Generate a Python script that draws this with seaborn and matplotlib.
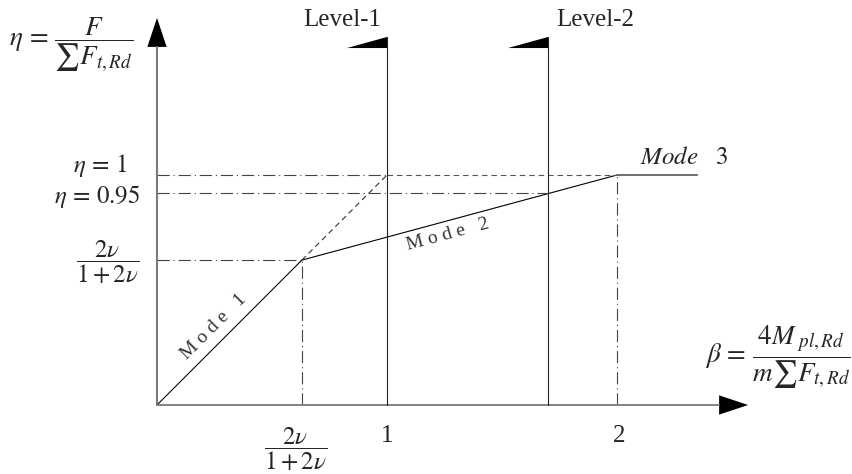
import numpy as np
import pandas as pd
import seaborn as sns
import matplotlib.pyplot as plt

# schematic values (beta, eta), in diagram units
beta_break = 0.63          # 2v/(1+2v)
beta_level1 = 1.0
beta_level2 = 1.70
beta_mode3 = 2.0
beta_end = 2.35
eta_break = 0.63
eta_095 = 0.92             # drawn position of the eta = 0.95 line
eta_one = 1.0

curve_beta = [0.0, beta_break, beta_mode3, beta_end]
curve_eta = [0.0, eta_break, eta_one, eta_one]

sns.set_theme(style="white")
plt.rcParams["font.family"] = ["Liberation Serif", "DejaVu Serif"]
plt.rcParams["mathtext.fontset"] = "stix"

fig = plt.figure(figsize=(8.53, 4.74), dpi=100)
ax = fig.add_axes([0, 0, 1, 1])
ax.set_xlim(-157 / 230, 696 / 230)
ax.set_ylim(-69 / 230, 405 / 230)
ax.axis("off")

axis_col = "#7a7a7a"
dashdot = (0, (11, 3.5, 1, 3.5))
dashed = (0, (5, 3.5))
lw = 0.8

# main curve: Mode 1 -> Mode 2 -> Mode 3
df = pd.DataFrame({"beta": curve_beta, "eta": curve_eta})
sns.lineplot(data=df, x="beta", y="eta", sort=False, color="black", lw=lw, ax=ax)

# dashed extension of Mode 1 and eta = 1 beyond level 1
ax.plot([beta_break, beta_level1], [eta_break, eta_one], color="#333333", lw=lw, ls=dashed)
ax.plot([beta_level1, beta_mode3], [eta_one, eta_one], color="#555555", lw=lw, ls=dashed)

# dash-dot reference lines
ax.plot([0, beta_level1], [eta_one, eta_one], color="#444444", lw=lw, ls=dashdot)
ax.plot([0, beta_level2], [eta_095, eta_095], color="#444444", lw=lw, ls=dashdot)
ax.plot([0, beta_break], [eta_break, eta_break], color="#444444", lw=lw, ls=dashdot)
ax.plot([beta_break, beta_break], [0, eta_break], color="#444444", lw=lw, ls=dashdot)
ax.plot([beta_mode3, beta_mode3], [0, eta_one], color="#444444", lw=lw, ls=dashdot)

# axes with arrow heads
x_tip, y_tip = 2.57, 1.683
ah_len, ah_w = 0.126, 0.042
ax.plot([0, x_tip - ah_len], [0, 0], color=axis_col, lw=1.3)
ax.plot([0, 0], [0, y_tip - ah_len], color=axis_col, lw=1.5)
ax.fill([x_tip - ah_len, x_tip, x_tip - ah_len], [-ah_w, 0, ah_w], color="black", lw=0)
ax.fill([-ah_w, 0, ah_w], [y_tip - ah_len, y_tip, y_tip - ah_len], color="black", lw=0)

# level lines with flags
flag_top, flag_h, flag_w = 1.60, 0.048, 0.174
for b, name in [(beta_level1, "Level-1"), (beta_level2, "Level-2")]:
    ax.plot([b, b], [0, flag_top], color="#222222", lw=lw)
    ax.fill([b - flag_w, b, b], [flag_top - flag_h, flag_top, flag_top - flag_h],
            color="black", lw=0)
    ax.text(b - 0.195 if b == beta_level1 else b + 0.205, 1.672, name,
            ha="center", va="center", fontsize=18)

fs = 18
ffs = 19.5
# axis titles
ax.text(-0.375, 1.565, r"$\eta\,=\,\dfrac{F}{\sum F_{t,Rd}}$", ha="center", va="center", fontsize=ffs)
ax.text(3.018, 0.205, r"$\beta\,=\,\dfrac{4M_{\ pl,Rd}}{m\sum F_{t,Rd}}$", ha="right", va="center", fontsize=ffs)

# y labels
ax.text(-0.248, 1.04, r"$\eta\,=\,1$", ha="center", va="center", fontsize=fs)
ax.text(-0.26, 0.905, r"$\eta\,=\,0.95$", ha="center", va="center", fontsize=fs)
ax.text(-0.217, 0.62, r"$\dfrac{2\nu}{1+2\nu}$", ha="center", va="center", fontsize=fs)

# x labels
ax.text(beta_break - 0.026, -0.19, r"$\dfrac{2\nu}{1+2\nu}$", ha="center", va="center", fontsize=fs)
ax.text(beta_level1, -0.135, "1", ha="center", va="center", fontsize=fs)
ax.text(beta_mode3 + 0.01, -0.135, "2", ha="center", va="center", fontsize=fs)

# mode labels
ax.text(0.245, 0.34, "M o d e   1", rotation=45, ha="center", va="center",
        rotation_mode="anchor", fontsize=14, color="#333333")
ang = np.degrees(np.arctan((eta_one - eta_break) / (beta_mode3 - beta_break)))
ax.text(1.265, 0.74, "M o d e   2", rotation=ang, ha="center", va="center",
        rotation_mode="anchor", fontsize=14, color="#333333")
ax.text(2.1, 1.075, r"$Mode\quad 3$", ha="left", va="center", fontsize=fs)

fig.savefig("out.png", dpi=100)
